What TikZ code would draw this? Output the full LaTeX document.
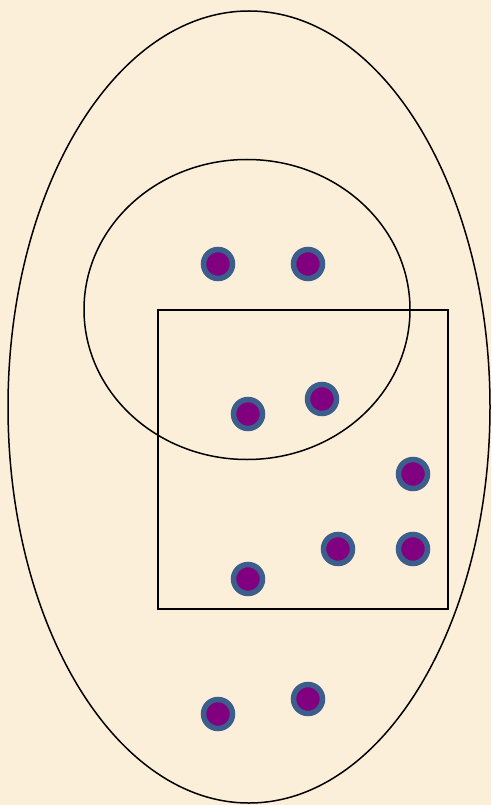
\documentclass[tikz,border=0pt]{standalone}
\usepackage{tikz}
\usetikzlibrary{positioning}
\definecolor{paper}{HTML}{FCEFD9}
\definecolor{ring}{HTML}{3B5E8C}
\definecolor{plum}{HTML}{800080}

\begin{document}
\begin{tikzpicture}[
x=1pt, y=-1pt,
dot/.style={circle, draw=ring, fill=plum, line width=5.5pt, minimum size=29pt, inner sep=0pt},
set/.style={draw, line width=1.5pt}
]

\fill[paper] (0,0) rectangle (491,805);
\useasboundingbox (0,0) rectangle (491,805);

\draw[set] (249,407) ellipse [x radius=241, y radius=396];
\draw[set] (247,309.5) ellipse [x radius=163, y radius=150];
\draw[set] (158,310) rectangle (448,609);

\node[dot] (a) at (218,264) {};
\node[dot] (b) at (308,264) {};
\node[dot] (c) at (248,414) {};
\node[dot] (d) at (322,399) {};
\node[dot] (e) at (413,474) {};
\node[dot] (f) at (338,549) {};
\node[dot] (g) at (413,549) {};
\node[dot] (h) at (248,579) {};
\node[dot] (i) at (218,714) {};
\node[dot] (j) at (308,699) {};

\end{tikzpicture}
\end{document}
